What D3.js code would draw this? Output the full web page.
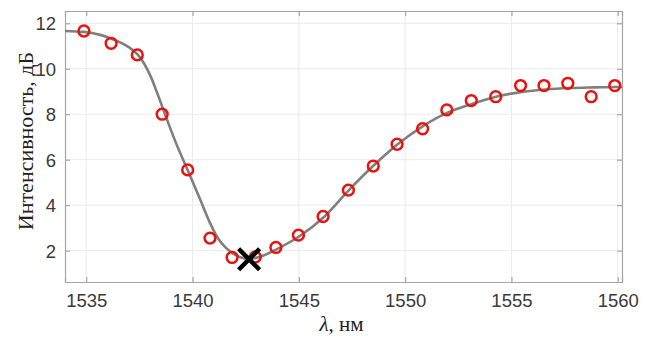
<!DOCTYPE html>
<html>
<head>
<meta charset="utf-8">
<script src="https://cdn.jsdelivr.net/npm/d3@7"></script>
<style>
  html, body { margin: 0; padding: 0; background: #fff; }
  svg { display: block; }
</style>
</head>
<body>
<svg id="chart" width="651" height="338"></svg>
<script>
// ---- data ----
const measX = [1534.89, 1536.17, 1537.40, 1538.57, 1539.77, 1540.82, 1541.86, 1542.95, 1543.92, 1544.98,
               1546.14, 1547.33, 1548.50, 1549.62, 1550.82, 1551.96, 1553.11, 1554.26, 1555.43, 1556.53,
               1557.65, 1558.75, 1559.86];
const measY = [11.66, 11.12, 10.61, 8.00, 5.55, 2.55, 1.70, 1.72, 2.14, 2.68,
               3.50, 4.66, 5.72, 6.68, 7.36, 8.19, 8.60, 8.77, 9.26, 9.26,
               9.36, 8.77, 9.26];
const fitX = [1534.00, 1534.89, 1535.65, 1536.16, 1536.82, 1537.06, 1537.39, 1537.72, 1538.05, 1538.37,
              1538.70, 1539.17, 1539.79, 1540.35, 1540.82, 1541.20, 1541.57, 1541.95, 1542.28, 1542.61,
              1543.27, 1543.97, 1545.01, 1546.18, 1547.31, 1548.49, 1549.66, 1550.84, 1552.02, 1553.14,
              1554.32, 1555.50, 1556.63, 1557.75, 1558.93, 1559.92, 1560.20];
const fitY = [11.66, 11.62, 11.49, 11.33, 11.05, 10.91, 10.65, 10.23, 9.62, 8.85,
              8.01, 6.85, 5.50, 4.27, 3.22, 2.53, 2.12, 1.85, 1.70, 1.63,
              1.76, 2.07, 2.62, 3.48, 4.62, 5.72, 6.69, 7.48, 8.08, 8.45,
              8.78, 8.98, 9.09, 9.15, 9.18, 9.20, 9.20];
const minX = [1542.66];
const minY = [1.62];
const xTicks = [1535, 1540, 1545, 1550, 1555, 1560];
const yTicks = [2, 4, 6, 8, 10, 12];
const xLabel = "нм";
const yLabel = "Интенсивность, дБ";

// ---- layout ----
const svg = d3.select("#chart");
const L = 65, R = 622, T = 11, B = 282;
const x = d3.scaleLinear().domain([1534, 1560.2]).range([L, R]);
const y = d3.scaleLinear().domain([0.62, 12.54]).range([B, T]);

svg.append("rect").attr("width", 651).attr("height", 338).attr("fill", "#fff");

// grid
const grid = svg.append("g").attr("stroke", "#ebebeb").attr("stroke-width", 1);
grid.selectAll("line.gx").data(xTicks).join("line")
  .attr("x1", d => x(d)).attr("x2", d => x(d)).attr("y1", T).attr("y2", B);
grid.selectAll("line.gy").data(yTicks).join("line")
  .attr("y1", d => y(d)).attr("y2", d => y(d)).attr("x1", L).attr("x2", R);

// axes (ticks inward, on all sides)
const tickLen = 5;
const axColor = "#a6a6a6";
const fontSans = "'Liberation Sans', Arial, sans-serif";
const gB = svg.append("g").attr("transform", `translate(0,${B})`)
  .call(d3.axisBottom(x).tickValues(xTicks).tickSize(-tickLen).tickPadding(12).tickFormat(d3.format("d")));
const gT = svg.append("g").attr("transform", `translate(0,${T})`)
  .call(d3.axisTop(x).tickValues(xTicks).tickSize(-tickLen).tickFormat(""));
const gL = svg.append("g").attr("transform", `translate(${L},0)`)
  .call(d3.axisLeft(y).tickValues(yTicks).tickSize(-tickLen).tickPadding(9).tickFormat(d3.format("d")));
const gR = svg.append("g").attr("transform", `translate(${R},0)`)
  .call(d3.axisRight(y).tickValues(yTicks).tickSize(-tickLen).tickFormat(""));
[gB, gT, gL, gR].forEach(g => {
  g.select(".domain").attr("stroke", axColor).attr("stroke-width", 1.2);
  g.selectAll(".tick line").attr("stroke", axColor).attr("stroke-width", 1.2);
  g.selectAll(".tick text").attr("fill", "#3a3a3a").style("font-family", fontSans).style("font-size", "18.5px");
});
gL.selectAll(".tick text").attr("dy", "0.36em");

// fitted curve
const pts = fitX.map((v, i) => [v, fitY[i]]);
svg.append("path").datum(pts)
  .attr("fill", "none").attr("stroke", "#7f7f7f").attr("stroke-width", 2.6)
  .attr("d", d3.line().x(d => x(d[0])).y(d => y(d[1])).curve(d3.curveMonotoneX));

// measured points
svg.append("g").selectAll("circle").data(measX.map((v, i) => [v, measY[i]])).join("circle")
  .attr("cx", d => x(d[0])).attr("cy", d => y(d[1])).attr("r", 5.4)
  .attr("fill", "none").attr("stroke", "#e8130f").attr("stroke-width", 2.5);

// minimum marker
svg.append("g").selectAll("path").data(minX.map((v, i) => [v, minY[i]])).join("path")
  .attr("transform", d => `translate(${x(d[0])},${y(d[1])})`)
  .attr("d", d3.symbol(d3.symbolX, 290)())
  .attr("fill", "none").attr("stroke", "#000").attr("stroke-width", 4.5);

// labels
const fontSerif = "'Liberation Serif', 'Times New Roman', serif";
const xl = svg.append("text").attr("x", (L + R) / 2 - 2).attr("y", 331)
  .attr("text-anchor", "middle").style("font-family", fontSerif).style("font-size", "21px").attr("fill", "#222");
xl.append("tspan").style("font-style", "italic").text("λ");
xl.append("tspan").text(", " + xLabel);

svg.append("text").attr("transform", "translate(33,141) rotate(-90)")
  .attr("text-anchor", "middle").style("font-family", fontSerif).style("font-size", "22px").attr("fill", "#222")
  .text(yLabel);
</script>
</body>
</html>
